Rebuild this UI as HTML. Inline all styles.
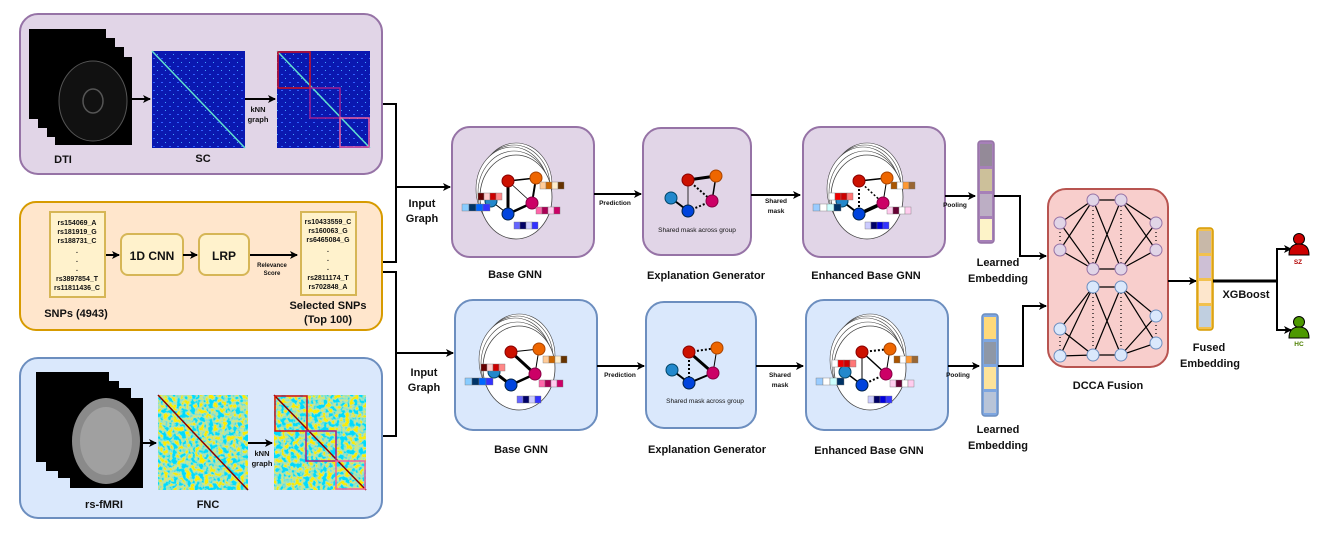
<!DOCTYPE html>
<html><head><meta charset="utf-8"><style>
html,body{margin:0;padding:0;background:#fff}
svg{display:block}
text{font-family:"Liberation Sans",Arial,sans-serif;font-weight:bold;fill:#111}
</style></head><body>
<svg width="1322" height="555" viewBox="0 0 1322 555" xmlns="http://www.w3.org/2000/svg">
<defs>
<marker id="ar" markerWidth="8" markerHeight="8" refX="7" refY="4" orient="auto" markerUnits="userSpaceOnUse"><path d="M0,0 L8,4 L0,8 L2,4 z" fill="#000"/></marker>
<pattern id="scp" width="8" height="8" patternUnits="userSpaceOnUse"><rect width="8" height="8" fill="#0a18b0"/><rect x="1" y="2" width="2" height="1" fill="#3060ff"/><rect x="5" y="6" width="1" height="1" fill="#40a0ff"/></pattern>
<filter id="noise"><feTurbulence type="fractalNoise" baseFrequency="0.22" numOctaves="2" seed="3"/><feColorMatrix type="matrix" values="3.2 0 0 0 -1.25  0.3 0 0 0 0.62  -3.2 0 0 0 2.1  0 0 0 0 1"/><feComposite in2="SourceGraphic" operator="in"/></filter>
<g id="g1">
  <ellipse cx="64" cy="58" rx="36" ry="42" fill="#fff" stroke="#444" stroke-width="0.6"/>
  <ellipse cx="62" cy="60" rx="36" ry="42" fill="#fff" stroke="#444" stroke-width="0.6"/>
  <ellipse cx="60" cy="62" rx="36" ry="42" fill="#fff" stroke="#444" stroke-width="0.6"/>
  <ellipse cx="62" cy="66" rx="36" ry="42" fill="#fff" stroke="#444" stroke-width="0.6"/>
  <ellipse cx="64" cy="70" rx="36" ry="42" fill="#fff" stroke="#444" stroke-width="0.8"/>
</g>
</defs>

<!-- Top panel -->
<rect x="20" y="14" width="362" height="160" rx="18" fill="#e1d5e7" stroke="#9673a6" stroke-width="2"/>
<rect x="29" y="29" width="77" height="90" fill="#000"/>
<rect x="38" y="38" width="77" height="90" fill="#000"/>
<rect x="47" y="47" width="77" height="90" fill="#000"/>
<rect x="55" y="57" width="77" height="88" fill="#000"/>
<ellipse cx="93" cy="101" rx="34" ry="40" fill="#111" stroke="#555" stroke-width="1"/>
<ellipse cx="93" cy="101" rx="10" ry="12" fill="none" stroke="#555" stroke-width="1.5"/>
<text x="63" y="163" font-size="11" text-anchor="middle">DTI</text>
<line x1="132" y1="99" x2="150" y2="99" stroke="#000" stroke-width="2" marker-end="url(#ar)"/>
<rect x="152" y="51" width="93" height="97" fill="url(#scp)"/>
<line x1="152" y1="51" x2="245" y2="148" stroke="#60e0d0" stroke-width="1.5"/>
<text x="203" y="162" font-size="11" text-anchor="middle">SC</text>
<line x1="245" y1="99" x2="275" y2="99" stroke="#000" stroke-width="2" marker-end="url(#ar)"/>
<text x="258" y="112" font-size="7.5" text-anchor="middle">kNN</text>
<text x="258" y="122" font-size="7.5" text-anchor="middle">graph</text>
<rect x="277" y="51" width="93" height="97" fill="url(#scp)"/>
<line x1="277" y1="51" x2="370" y2="148" stroke="#60e0d0" stroke-width="1.5"/>
<rect x="278" y="52" width="32" height="36" fill="none" stroke="#d01020" stroke-width="1.5"/>
<rect x="310" y="88" width="30" height="30" fill="none" stroke="#a02090" stroke-width="1.5"/>
<rect x="340" y="118" width="29" height="29" fill="none" stroke="#f060a0" stroke-width="1.5"/>

<!-- Middle panel -->
<rect x="20" y="202" width="362" height="128" rx="16" fill="#ffe6cc" stroke="#d79b00" stroke-width="2"/>
<rect x="50" y="212" width="55" height="85" fill="#fff2cc" stroke="#d6b656" stroke-width="2"/>
<g font-size="7" text-anchor="middle">
<text x="77" y="225">rs154069_A</text><text x="77" y="234">rs181919_G</text><text x="77" y="243">rs188731_C</text>
<text x="77" y="253">.</text><text x="77" y="262">.</text><text x="77" y="271">.</text>
<text x="77" y="281">rs3897854_T</text><text x="77" y="290">rs11811436_C</text>
</g>
<line x1="106" y1="255" x2="119" y2="255" stroke="#000" stroke-width="2" marker-end="url(#ar)"/>
<rect x="121" y="234" width="62" height="41" rx="7" fill="#fff2cc" stroke="#d6b656" stroke-width="2"/>
<text x="152" y="260" font-size="12" text-anchor="middle">1D CNN</text>
<line x1="183" y1="255" x2="197" y2="255" stroke="#000" stroke-width="2" marker-end="url(#ar)"/>
<rect x="199" y="234" width="50" height="41" rx="7" fill="#fff2cc" stroke="#d6b656" stroke-width="2"/>
<text x="224" y="260" font-size="12" text-anchor="middle">LRP</text>
<line x1="250" y1="255" x2="297" y2="255" stroke="#000" stroke-width="2" marker-end="url(#ar)"/>
<text x="272" y="267" font-size="6" text-anchor="middle">Relevance</text>
<text x="272" y="275" font-size="6" text-anchor="middle">Score</text>
<rect x="301" y="212" width="55" height="83" fill="#fff2cc" stroke="#d6b656" stroke-width="2"/>
<g font-size="7" text-anchor="middle">
<text x="328" y="224">rs10433559_C</text><text x="328" y="233">rs160063_G</text><text x="328" y="242">rs6465084_G</text>
<text x="328" y="252">.</text><text x="328" y="261">.</text><text x="328" y="270">.</text>
<text x="328" y="280">rs2811174_T</text><text x="328" y="289">rs702848_A</text>
</g>
<text x="76" y="317" font-size="11" text-anchor="middle">SNPs (4943)</text>
<text x="328" y="309" font-size="11" text-anchor="middle">Selected SNPs</text>
<text x="328" y="323" font-size="11" text-anchor="middle">(Top 100)</text>

<!-- Bottom panel -->
<rect x="20" y="358" width="362" height="160" rx="18" fill="#dae8fc" stroke="#6c8ebf" stroke-width="2"/>
<rect x="36" y="372" width="73" height="90" fill="#000"/>
<rect x="46" y="381" width="73" height="90" fill="#000"/>
<rect x="58" y="388" width="73" height="90" fill="#000"/>
<rect x="70" y="398" width="73" height="90" fill="#000"/>
<ellipse cx="106" cy="441" rx="34" ry="43" fill="#8a8a8a"/>
<ellipse cx="106" cy="441" rx="26" ry="34" fill="#a0a0a0"/>
<text x="104" y="508" font-size="11" text-anchor="middle">rs-fMRI</text>
<line x1="143" y1="443" x2="156" y2="443" stroke="#000" stroke-width="2" marker-end="url(#ar)"/>
<rect x="158" y="395" width="90" height="95" fill="#fff" filter="url(#noise)"/>
<line x1="158" y1="395" x2="248" y2="490" stroke="#8b0000" stroke-width="1.5"/>
<text x="208" y="508" font-size="11" text-anchor="middle">FNC</text>
<line x1="248" y1="443" x2="272" y2="443" stroke="#000" stroke-width="2" marker-end="url(#ar)"/>
<text x="262" y="456" font-size="7.5" text-anchor="middle">kNN</text>
<text x="262" y="466" font-size="7.5" text-anchor="middle">graph</text>
<rect x="274" y="395" width="92" height="95" fill="#fff" filter="url(#noise)"/>
<line x1="274" y1="395" x2="366" y2="490" stroke="#8b0000" stroke-width="1.5"/>
<rect x="275" y="396" width="32" height="35" fill="none" stroke="#d01020" stroke-width="1.5"/>
<rect x="306" y="431" width="30" height="30" fill="none" stroke="#a02090" stroke-width="1.5"/>
<rect x="336" y="461" width="29" height="28" fill="none" stroke="#f060a0" stroke-width="1.5"/>

<!-- connectors to GNN -->
<polyline points="383,104 396,104 396,262 383,262" fill="none" stroke="#000" stroke-width="2"/>
<line x1="396" y1="187" x2="450" y2="187" stroke="#000" stroke-width="2" marker-end="url(#ar)"/>
<polyline points="383,272 396,272 396,436 383,436" fill="none" stroke="#000" stroke-width="2"/>
<line x1="396" y1="353" x2="453" y2="353" stroke="#000" stroke-width="2" marker-end="url(#ar)"/>
<text x="422" y="207" font-size="11" text-anchor="middle">Input</text>
<text x="422" y="222" font-size="11" text-anchor="middle">Graph</text>
<text x="424" y="376" font-size="11" text-anchor="middle">Input</text>
<text x="424" y="391" font-size="11" text-anchor="middle">Graph</text>

<!-- TOP ROW -->
<rect x="452" y="127" width="142" height="130" rx="18" fill="#e1d5e7" stroke="#9673a6" stroke-width="2"/>
<g transform="translate(452,127)">
<use href="#g1"/>
<line x1="56" y1="54" x2="84" y2="51" stroke="#000" stroke-width="1.5"/>
<line x1="56" y1="54" x2="56" y2="87" stroke="#000" stroke-width="3"/>
<line x1="56" y1="54" x2="80" y2="76" stroke="#000" stroke-width="0.8"/>
<line x1="84" y1="51" x2="80" y2="76" stroke="#000" stroke-width="2"/>
<line x1="56" y1="87" x2="80" y2="76" stroke="#000" stroke-width="2.5"/>
<line x1="39" y1="74" x2="56" y2="87" stroke="#000" stroke-width="1"/>
<circle cx="56" cy="54" r="6" fill="#cc1100" stroke="#800"/><circle cx="84" cy="51" r="6" fill="#ee6600" stroke="#a40"/>
<circle cx="80" cy="76" r="6" fill="#cc0066" stroke="#804"/><circle cx="56" cy="87" r="6" fill="#0044dd" stroke="#024"/>
<circle cx="39" cy="74" r="6" fill="#2288cc" stroke="#046"/>
<g stroke="#777" stroke-width="0.4"><rect x="26" y="66" width="6" height="7" fill="#600"/><rect x="32" y="66" width="6" height="7" fill="#fcc"/><rect x="38" y="66" width="6" height="7" fill="#c00"/><rect x="44" y="66" width="6" height="7" fill="#f88"/>
<rect x="10" y="77" width="7" height="7" fill="#8cf"/><rect x="17" y="77" width="7" height="7" fill="#036"/><rect x="24" y="77" width="7" height="7" fill="#06f"/><rect x="31" y="77" width="7" height="7" fill="#33f"/>
<rect x="62" y="95" width="6" height="7" fill="#66f"/><rect x="68" y="95" width="6" height="7" fill="#006"/><rect x="74" y="95" width="6" height="7" fill="#ccf"/><rect x="80" y="95" width="6" height="7" fill="#33f"/>
<rect x="88" y="55" width="6" height="7" fill="#fc9"/><rect x="94" y="55" width="6" height="7" fill="#c60"/><rect x="100" y="55" width="6" height="7" fill="#fec"/><rect x="106" y="55" width="6" height="7" fill="#630"/>
<rect x="84" y="80" width="6" height="7" fill="#f6a"/><rect x="90" y="80" width="6" height="7" fill="#a05"/><rect x="96" y="80" width="6" height="7" fill="#fce"/><rect x="102" y="80" width="6" height="7" fill="#c06"/></g>
</g>
<text x="515" y="278" font-size="11" text-anchor="middle">Base GNN</text>
<line x1="594" y1="194" x2="641" y2="194" stroke="#000" stroke-width="2" marker-end="url(#ar)"/>
<text x="615" y="205" font-size="6.5" text-anchor="middle">Prediction</text>

<rect x="643" y="128" width="108" height="127" rx="18" fill="#e1d5e7" stroke="#9673a6" stroke-width="2"/>
<g>
<line x1="688" y1="180" x2="716" y2="176" stroke="#000" stroke-width="3"/>
<line x1="688" y1="180" x2="688" y2="211" stroke="#000" stroke-width="0.8"/>
<line x1="688" y1="180" x2="712" y2="201" stroke="#000" stroke-width="2" stroke-dasharray="2,2"/>
<line x1="716" y1="176" x2="712" y2="201" stroke="#000" stroke-width="1.5"/>
<line x1="688" y1="211" x2="712" y2="201" stroke="#000" stroke-width="2" stroke-dasharray="2,2"/>
<line x1="671" y1="198" x2="688" y2="211" stroke="#000" stroke-width="2"/>
<circle cx="688" cy="180" r="6" fill="#cc1100" stroke="#800"/><circle cx="716" cy="176" r="6" fill="#ee6600" stroke="#a40"/>
<circle cx="712" cy="201" r="6" fill="#cc0066" stroke="#804"/><circle cx="688" cy="211" r="6" fill="#0044dd" stroke="#024"/>
<circle cx="671" cy="198" r="6" fill="#2288cc" stroke="#046"/>
</g>
<text x="697" y="232" font-size="6.5" text-anchor="middle" style="font-weight:normal">Shared mask across group</text>
<text x="706" y="279" font-size="11" text-anchor="middle">Explanation Generator</text>
<line x1="751" y1="195" x2="800" y2="195" stroke="#000" stroke-width="2" marker-end="url(#ar)"/>
<text x="776" y="203" font-size="6.5" text-anchor="middle">Shared</text>
<text x="776" y="213" font-size="6.5" text-anchor="middle">mask</text>

<rect x="803" y="127" width="142" height="130" rx="18" fill="#e1d5e7" stroke="#9673a6" stroke-width="2"/>
<g transform="translate(803,127)">
<use href="#g1"/>
<line x1="56" y1="54" x2="84" y2="51" stroke="#000" stroke-width="1.5"/>
<line x1="56" y1="54" x2="56" y2="87" stroke="#000" stroke-width="2" stroke-dasharray="2,2"/>
<line x1="56" y1="54" x2="80" y2="76" stroke="#000" stroke-width="1.5" stroke-dasharray="2,2"/>
<line x1="84" y1="51" x2="80" y2="76" stroke="#000" stroke-width="1"/>
<line x1="56" y1="87" x2="80" y2="76" stroke="#000" stroke-width="3.5"/>
<line x1="39" y1="74" x2="56" y2="87" stroke="#000" stroke-width="2"/>
<circle cx="56" cy="54" r="6" fill="#cc1100" stroke="#800"/><circle cx="84" cy="51" r="6" fill="#ee6600" stroke="#a40"/>
<circle cx="80" cy="76" r="6" fill="#cc0066" stroke="#804"/><circle cx="56" cy="87" r="6" fill="#0044dd" stroke="#024"/>
<circle cx="39" cy="74" r="6" fill="#2288cc" stroke="#046"/>
<g stroke="#777" stroke-width="0.4"><rect x="26" y="66" width="6" height="7" fill="#fff"/><rect x="32" y="66" width="6" height="7" fill="#e00"/><rect x="38" y="66" width="6" height="7" fill="#c00"/><rect x="44" y="66" width="6" height="7" fill="#f77"/>
<rect x="10" y="77" width="7" height="7" fill="#9cf"/><rect x="17" y="77" width="7" height="7" fill="#fff"/><rect x="24" y="77" width="7" height="7" fill="#cff"/><rect x="31" y="77" width="7" height="7" fill="#036"/>
<rect x="62" y="95" width="6" height="7" fill="#ccf"/><rect x="68" y="95" width="6" height="7" fill="#006"/><rect x="74" y="95" width="6" height="7" fill="#00d"/><rect x="80" y="95" width="6" height="7" fill="#33f"/>
<rect x="88" y="55" width="6" height="7" fill="#a50"/><rect x="94" y="55" width="6" height="7" fill="#fff"/><rect x="100" y="55" width="6" height="7" fill="#f93"/><rect x="106" y="55" width="6" height="7" fill="#963"/>
<rect x="84" y="80" width="6" height="7" fill="#fce"/><rect x="90" y="80" width="6" height="7" fill="#603"/><rect x="96" y="80" width="6" height="7" fill="#fff"/><rect x="102" y="80" width="6" height="7" fill="#fce"/></g>
</g>
<text x="866" y="279" font-size="11" text-anchor="middle">Enhanced Base GNN</text>
<line x1="945" y1="196" x2="975" y2="196" stroke="#000" stroke-width="2" marker-end="url(#ar)"/>
<text x="955" y="207" font-size="6.5" text-anchor="middle">Pooling</text>
<rect x="978" y="141" width="16" height="102" rx="3" fill="#a680b8" stroke="#9673a6" stroke-width="1.5"/>
<rect x="980" y="144" width="12" height="22" fill="#948a98"/><rect x="980" y="169" width="12" height="22" fill="#ccc09a"/>
<rect x="980" y="194" width="12" height="22" fill="#bcaec4"/><rect x="980" y="219" width="12" height="21" fill="#fdf3c8"/>
<text x="998" y="266" font-size="11" text-anchor="middle">Learned</text>
<text x="998" y="282" font-size="11" text-anchor="middle">Embedding</text>
<polyline points="994,196 1020,196 1020,256 1046,256" fill="none" stroke="#000" stroke-width="2" marker-end="url(#ar)"/>

<!-- BOTTOM ROW -->
<rect x="455" y="300" width="142" height="130" rx="18" fill="#dae8fc" stroke="#6c8ebf" stroke-width="2"/>
<g transform="translate(455,298)">
<use href="#g1"/>
<line x1="56" y1="54" x2="84" y2="51" stroke="#000" stroke-width="1"/>
<line x1="56" y1="54" x2="80" y2="76" stroke="#000" stroke-width="3"/>
<line x1="84" y1="51" x2="80" y2="76" stroke="#000" stroke-width="1"/>
<line x1="56" y1="87" x2="80" y2="76" stroke="#000" stroke-width="2.5"/>
<line x1="39" y1="74" x2="56" y2="87" stroke="#000" stroke-width="3"/>
<circle cx="56" cy="54" r="6" fill="#cc1100" stroke="#800"/><circle cx="84" cy="51" r="6" fill="#ee6600" stroke="#a40"/>
<circle cx="80" cy="76" r="6" fill="#cc0066" stroke="#804"/><circle cx="56" cy="87" r="6" fill="#0044dd" stroke="#024"/>
<circle cx="39" cy="74" r="6" fill="#2288cc" stroke="#046"/>
<g stroke="#777" stroke-width="0.4"><rect x="26" y="66" width="6" height="7" fill="#600"/><rect x="32" y="66" width="6" height="7" fill="#fcc"/><rect x="38" y="66" width="6" height="7" fill="#c00"/><rect x="44" y="66" width="6" height="7" fill="#f88"/>
<rect x="10" y="80" width="7" height="7" fill="#8cf"/><rect x="17" y="80" width="7" height="7" fill="#036"/><rect x="24" y="80" width="7" height="7" fill="#06f"/><rect x="31" y="80" width="7" height="7" fill="#33f"/>
<rect x="62" y="98" width="6" height="7" fill="#66f"/><rect x="68" y="98" width="6" height="7" fill="#006"/><rect x="74" y="98" width="6" height="7" fill="#ccf"/><rect x="80" y="98" width="6" height="7" fill="#33f"/>
<rect x="88" y="58" width="6" height="7" fill="#fc9"/><rect x="94" y="58" width="6" height="7" fill="#c60"/><rect x="100" y="58" width="6" height="7" fill="#fec"/><rect x="106" y="58" width="6" height="7" fill="#630"/>
<rect x="84" y="82" width="6" height="7" fill="#f6a"/><rect x="90" y="82" width="6" height="7" fill="#a05"/><rect x="96" y="82" width="6" height="7" fill="#fce"/><rect x="102" y="82" width="6" height="7" fill="#c06"/></g>
</g>
<text x="521" y="453" font-size="11" text-anchor="middle">Base GNN</text>
<line x1="597" y1="366" x2="644" y2="366" stroke="#000" stroke-width="2" marker-end="url(#ar)"/>
<text x="620" y="377" font-size="6.5" text-anchor="middle">Prediction</text>

<rect x="646" y="302" width="110" height="126" rx="18" fill="#dae8fc" stroke="#6c8ebf" stroke-width="2"/>
<g>
<line x1="689" y1="352" x2="717" y2="348" stroke="#000" stroke-width="2" stroke-dasharray="2,2"/>
<line x1="689" y1="352" x2="689" y2="383" stroke="#000" stroke-width="2" stroke-dasharray="2,2"/>
<line x1="689" y1="352" x2="713" y2="373" stroke="#000" stroke-width="3"/>
<line x1="717" y1="348" x2="713" y2="373" stroke="#000" stroke-width="1"/>
<line x1="689" y1="383" x2="713" y2="373" stroke="#000" stroke-width="2"/>
<line x1="672" y1="370" x2="689" y2="383" stroke="#000" stroke-width="2"/>
<circle cx="689" cy="352" r="6" fill="#cc1100" stroke="#800"/><circle cx="717" cy="348" r="6" fill="#ee6600" stroke="#a40"/>
<circle cx="713" cy="373" r="6" fill="#cc0066" stroke="#804"/><circle cx="689" cy="383" r="6" fill="#0044dd" stroke="#024"/>
<circle cx="672" cy="370" r="6" fill="#2288cc" stroke="#046"/>
</g>
<text x="705" y="403" font-size="6.5" text-anchor="middle" style="font-weight:normal">Shared mask across group</text>
<text x="707" y="453" font-size="11" text-anchor="middle">Explanation Generator</text>
<line x1="756" y1="366" x2="803" y2="366" stroke="#000" stroke-width="2" marker-end="url(#ar)"/>
<text x="780" y="377" font-size="6.5" text-anchor="middle">Shared</text>
<text x="780" y="387" font-size="6.5" text-anchor="middle">mask</text>

<rect x="806" y="300" width="142" height="130" rx="18" fill="#dae8fc" stroke="#6c8ebf" stroke-width="2"/>
<g transform="translate(806,298)">
<use href="#g1"/>
<line x1="56" y1="54" x2="84" y2="51" stroke="#000" stroke-width="2" stroke-dasharray="2,2"/>
<line x1="56" y1="54" x2="56" y2="87" stroke="#000" stroke-width="1"/>
<line x1="56" y1="54" x2="80" y2="76" stroke="#000" stroke-width="1.5"/>
<line x1="84" y1="51" x2="80" y2="76" stroke="#000" stroke-width="1"/>
<line x1="56" y1="87" x2="80" y2="76" stroke="#000" stroke-width="2" stroke-dasharray="2,2"/>
<line x1="39" y1="74" x2="56" y2="87" stroke="#000" stroke-width="1.5"/>
<circle cx="56" cy="54" r="6" fill="#cc1100" stroke="#800"/><circle cx="84" cy="51" r="6" fill="#ee6600" stroke="#a40"/>
<circle cx="80" cy="76" r="6" fill="#cc0066" stroke="#804"/><circle cx="56" cy="87" r="6" fill="#0044dd" stroke="#024"/>
<circle cx="39" cy="74" r="6" fill="#2288cc" stroke="#046"/>
<g stroke="#777" stroke-width="0.4"><rect x="26" y="62" width="6" height="7" fill="#fff"/><rect x="32" y="62" width="6" height="7" fill="#e00"/><rect x="38" y="62" width="6" height="7" fill="#c00"/><rect x="44" y="62" width="6" height="7" fill="#f77"/>
<rect x="10" y="80" width="7" height="7" fill="#9cf"/><rect x="17" y="80" width="7" height="7" fill="#fff"/><rect x="24" y="80" width="7" height="7" fill="#cff"/><rect x="31" y="80" width="7" height="7" fill="#036"/>
<rect x="62" y="98" width="6" height="7" fill="#ccf"/><rect x="68" y="98" width="6" height="7" fill="#006"/><rect x="74" y="98" width="6" height="7" fill="#00d"/><rect x="80" y="98" width="6" height="7" fill="#33f"/>
<rect x="88" y="58" width="6" height="7" fill="#a50"/><rect x="94" y="58" width="6" height="7" fill="#fff"/><rect x="100" y="58" width="6" height="7" fill="#f93"/><rect x="106" y="58" width="6" height="7" fill="#963"/>
<rect x="84" y="82" width="6" height="7" fill="#fce"/><rect x="90" y="82" width="6" height="7" fill="#603"/><rect x="96" y="82" width="6" height="7" fill="#fff"/><rect x="102" y="82" width="6" height="7" fill="#fce"/></g>
</g>
<text x="869" y="454" font-size="11" text-anchor="middle">Enhanced Base GNN</text>
<line x1="948" y1="366" x2="979" y2="366" stroke="#000" stroke-width="2" marker-end="url(#ar)"/>
<text x="958" y="377" font-size="6.5" text-anchor="middle">Pooling</text>
<rect x="982" y="314" width="16" height="102" rx="3" fill="#7ea6e0" stroke="#6c8ebf" stroke-width="1.5"/>
<rect x="984" y="317" width="12" height="22" fill="#ffd97a"/><rect x="984" y="342" width="12" height="22" fill="#8e97a6"/>
<rect x="984" y="367" width="12" height="22" fill="#fde39a"/><rect x="984" y="392" width="12" height="21" fill="#b8c4d8"/>
<text x="998" y="433" font-size="11" text-anchor="middle">Learned</text>
<text x="998" y="449" font-size="11" text-anchor="middle">Embedding</text>
<polyline points="998,366 1023,366 1023,306 1046,306" fill="none" stroke="#000" stroke-width="2" marker-end="url(#ar)"/>

<!-- DCCA -->
<rect x="1048" y="189" width="120" height="178" rx="18" fill="#f8cecc" stroke="#b85450" stroke-width="2"/>
<g stroke="#000" stroke-width="1.2" fill="none">
<path d="M1060,223 L1093,200 M1060,223 L1093,269 M1060,250 L1093,200 M1060,250 L1093,269 M1093,200 L1121,200 M1093,269 L1121,269 M1093,200 L1121,269 M1093,269 L1121,200 M1121,200 L1156,223 M1121,200 L1156,250 M1121,269 L1156,223 M1121,269 L1156,250"/>
<path d="M1060,329 L1093,287 M1060,329 L1093,355 M1060,356 L1093,287 M1060,356 L1093,355 M1093,287 L1121,287 M1093,355 L1121,355 M1093,287 L1121,355 M1093,355 L1121,287 M1121,287 L1156,316 M1121,287 L1156,343 M1121,355 L1156,316 M1121,355 L1156,343"/>
<g stroke-dasharray="1,3"><path d="M1060,228 V246 M1093,206 V263 M1121,206 V263 M1156,228 V246 M1060,333 V351 M1093,293 V349 M1121,293 V349 M1156,321 V339"/></g>
</g>
<g fill="#e1d5e7" stroke="#9673a6" stroke-width="1"><circle cx="1060" cy="223" r="6"/><circle cx="1060" cy="250" r="6"/><circle cx="1093" cy="200" r="6"/><circle cx="1093" cy="269" r="6"/><circle cx="1121" cy="200" r="6"/><circle cx="1121" cy="269" r="6"/><circle cx="1156" cy="223" r="6"/><circle cx="1156" cy="250" r="6"/></g>
<g fill="#dae8fc" stroke="#6c8ebf" stroke-width="1"><circle cx="1060" cy="329" r="6"/><circle cx="1060" cy="356" r="6"/><circle cx="1093" cy="287" r="6"/><circle cx="1093" cy="355" r="6"/><circle cx="1121" cy="287" r="6"/><circle cx="1121" cy="355" r="6"/><circle cx="1156" cy="316" r="6"/><circle cx="1156" cy="343" r="6"/></g>
<text x="1108" y="389" font-size="11" text-anchor="middle">DCCA Fusion</text>
<line x1="1168" y1="281" x2="1196" y2="281" stroke="#000" stroke-width="2" marker-end="url(#ar)"/>
<rect x="1197" y="228" width="16" height="102" rx="3" fill="#f2c14e" stroke="#d79b00" stroke-width="1.5"/>
<rect x="1199" y="231" width="12" height="22" fill="#c8b8a8"/><rect x="1199" y="256" width="12" height="22" fill="#cdbfd5"/>
<rect x="1199" y="281" width="12" height="22" fill="#fde6cc"/><rect x="1199" y="306" width="12" height="21" fill="#c0cfe0"/>
<text x="1209" y="351" font-size="11" text-anchor="middle">Fused</text>
<text x="1210" y="367" font-size="11" text-anchor="middle">Embedding</text>
<line x1="1213" y1="281" x2="1277" y2="281" stroke="#000" stroke-width="3"/>
<text x="1246" y="298" font-size="11" text-anchor="middle">XGBoost</text>
<polyline points="1290,249 1277,249 1277,330 1290,330" fill="none" stroke="#000" stroke-width="2"/>
<line x1="1280" y1="249" x2="1291" y2="249" stroke="#000" stroke-width="2" marker-end="url(#ar)"/>
<line x1="1280" y1="330" x2="1291" y2="330" stroke="#000" stroke-width="2" marker-end="url(#ar)"/>
<g stroke="#000" stroke-width="1">
<circle cx="1299" cy="239" r="5.5" fill="#cc0000"/><path d="M1289,255 Q1289,244 1299,244 Q1309,244 1309,255 Z" fill="#cc0000"/>
<circle cx="1299" cy="322" r="5.5" fill="#4d9900"/><path d="M1289,338 Q1289,327 1299,327 Q1309,327 1309,338 Z" fill="#4d9900"/>
</g>
<text x="1298" y="264" font-size="6.5" text-anchor="middle" style="fill:#b20000">SZ</text>
<text x="1299" y="346" font-size="6.5" text-anchor="middle" style="fill:#4d8000">HC</text>
</svg>
</body></html>
